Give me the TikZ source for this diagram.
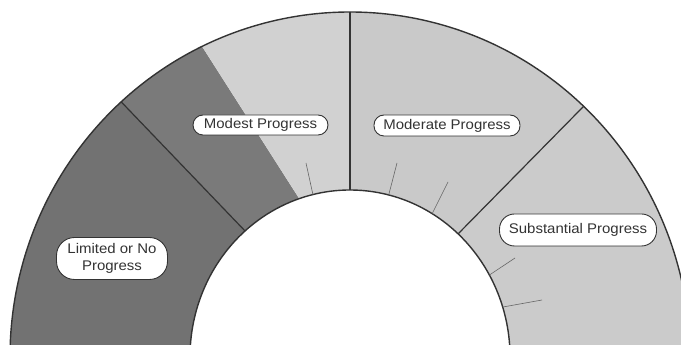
\documentclass[tikz,border=0pt]{standalone}
\usepackage{fontspec}
\newfontfamily\labfont[FakeStretch=1.07]{Liberation Sans}
\usetikzlibrary{calc}
\definecolor{darkA}{HTML}{727272}
\definecolor{darkB}{HTML}{7A7A7A}
\definecolor{lightA}{HTML}{D1D1D1}
\definecolor{lightB}{HTML}{C9C9C9}
\definecolor{lightC}{HTML}{CBCBCB}
\definecolor{inkline}{HTML}{333333}
\begin{document}
\begin{tikzpicture}[x=1pt,y=1pt,
  lab/.style={draw=inkline, line width=0.9pt, fill=white, font=\labfont\fontsize{14}{17}\selectfont, text=black!80, inner sep=0pt, align=center},
  rim/.style={draw=inkline, line width=1.4pt},
  divider/.style={draw=inkline, line width=1.2pt},
  tickline/.style={draw=black!60, line width=0.6pt},
  outarc/.style={x radius=340pt, y radius=345pt},
  inarc/.style={x radius=160pt, y radius=167pt}]
\useasboundingbox (0,0) rectangle (681,345);
\coordinate (C) at (350,-12);
\begin{scope}
\clip (0,0) rectangle (681,345);
% Limited
\fill[darkA] ($(C)+(132.3:340pt and 345pt)$) arc[start angle=132.3, end angle=190, outarc]
  -- ($(C)+(190:160pt and 167pt)$) arc[start angle=190, end angle=131, inarc] -- cycle;
% Modest dark part
\fill[darkB] ($(C)+(115.8:340pt and 345pt)$) arc[start angle=115.8, end angle=132.3, outarc]
  -- ($(C)+(131:160pt and 167pt)$) arc[start angle=131, end angle=108.5, inarc] -- cycle;
% Modest light part
\fill[lightA] ($(C)+(90:340pt and 345pt)$) arc[start angle=90, end angle=115.8, outarc]
  -- ($(C)+(108.5:160pt and 167pt)$) arc[start angle=108.5, end angle=90, inarc] -- cycle;
% Moderate
\fill[lightB] ($(C)+(46.6:340pt and 345pt)$) arc[start angle=46.6, end angle=90, outarc]
  -- ($(C)+(90:160pt and 167pt)$) arc[start angle=90, end angle=47.5, inarc] -- cycle;
% Substantial
\fill[lightC] ($(C)+(-10:340pt and 345pt)$) arc[start angle=-10, end angle=46.6, outarc]
  -- ($(C)+(47.5:160pt and 167pt)$) arc[start angle=47.5, end angle=-10, inarc] -- cycle;
% rims
\draw[rim] ($(C)+(-10:340pt and 345pt)$) arc[start angle=-10, end angle=190, outarc];
\draw[rim] ($(C)+(-10:160pt and 167pt)$) arc[start angle=-10, end angle=190, inarc];
% dividers
\coordinate (d1o) at ($(C)+(132.3:340pt and 345pt)$);
\coordinate (d1i) at ($(C)+(131:160pt and 167pt)$);
\coordinate (d2o) at ($(C)+(90:340pt and 345pt)$);
\coordinate (d2i) at ($(C)+(90:160pt and 167pt)$);
\coordinate (d3o) at ($(C)+(46.6:340pt and 345pt)$);
\coordinate (d3i) at ($(C)+(47.5:160pt and 167pt)$);
\draw[divider] (d1o) -- (d1i);
\draw[divider] (d2o) -- (d2i);
\draw[divider] (d3o) -- (d3i);
% ticks
\coordinate (t1a) at ($(C)+(103.4:160pt and 167pt)$); \coordinate (t1b) at (306,182);
\coordinate (t2a) at ($(C)+(76:160pt and 167pt)$);    \coordinate (t2b) at (397,182);
\coordinate (t3a) at ($(C)+(59.1:160pt and 167pt)$);  \coordinate (t3b) at (448,163);
\coordinate (t4a) at ($(C)+(29.4:160pt and 167pt)$);  \coordinate (t4b) at (515,87);
\coordinate (t5a) at ($(C)+(17.4:160pt and 167pt)$);  \coordinate (t5b) at (542,45);
\draw[tickline] (t1a) -- (t1b);
\draw[tickline] (t2a) -- (t2b);
\draw[tickline] (t3a) -- (t3b);
\draw[tickline] (t4a) -- (t4b);
\draw[tickline] (t5a) -- (t5b);
\end{scope}
% labels
\node[lab, minimum width=135pt, minimum height=20pt, rounded corners=10pt] (modest) at (260.5,220) {Modest Progress};
\node[lab, minimum width=146pt, minimum height=21pt, rounded corners=10pt] (moderate) at (447,219.5) {Moderate Progress};
\node[lab, minimum width=157pt, minimum height=32pt, rounded corners=15pt] (substantial) at (578,115) {Substantial Progress};
\node[lab, minimum width=111pt, minimum height=42pt, rounded corners=18pt] (limited) at (112,86.5) {Limited or No\\Progress};
\end{tikzpicture}
\end{document}
